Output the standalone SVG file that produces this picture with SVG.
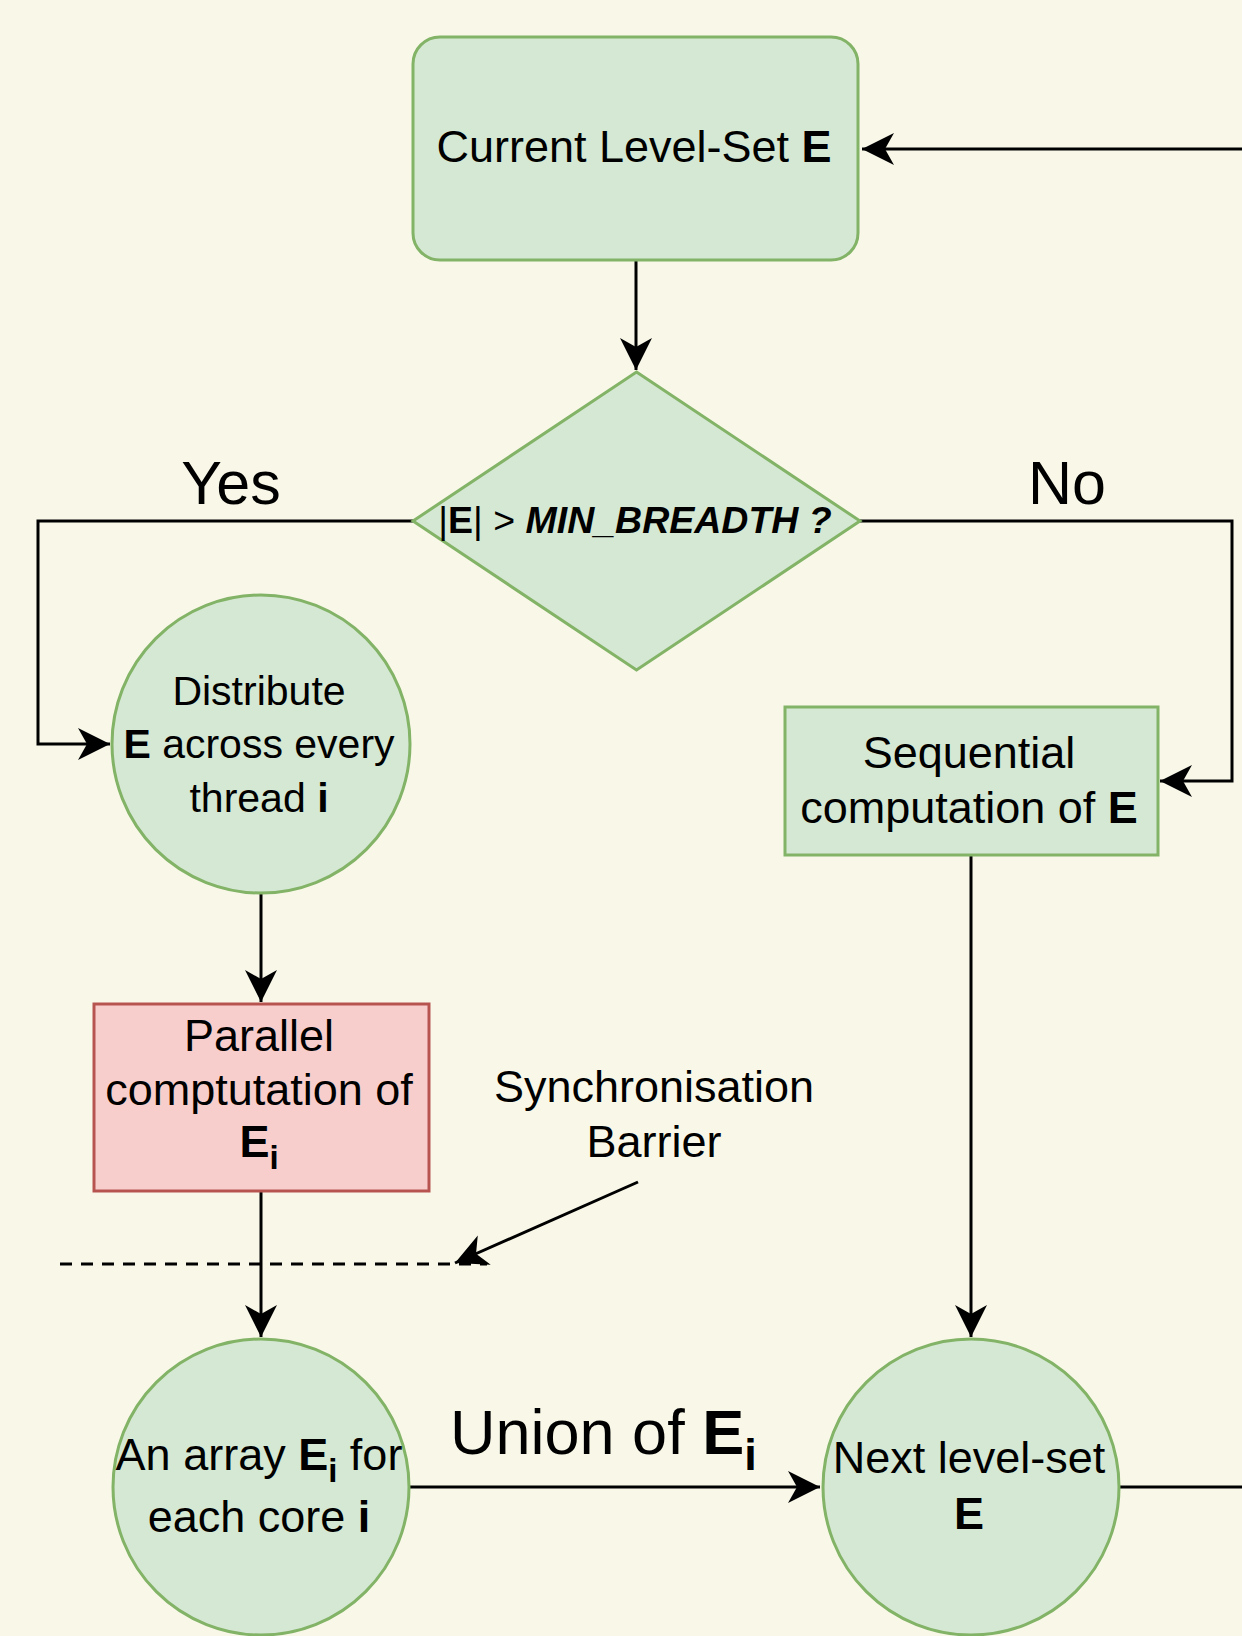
<svg xmlns="http://www.w3.org/2000/svg" width="1242" height="1636" viewBox="0 0 1242 1636">
<style>
text{font-family:"Liberation Sans",Arial,sans-serif;fill:#000}
.g{fill:#d5e8d4;stroke:#82b366;stroke-width:3}
.r{fill:#f8cecc;stroke:#b85450;stroke-width:3}
.c{fill:none;stroke:#000;stroke-width:3}
.b{font-weight:bold}
.t44{font-size:45px}
.t40{font-size:41px}
</style>
<defs>
<marker id="ah" markerUnits="userSpaceOnUse" viewBox="-34 -18 36 36" markerWidth="36" markerHeight="36" refX="0" refY="0" orient="auto">
<path d="M0,0 L-32,-16 L-23,0 L-32,16 Z" fill="#000"/>
</marker>
</defs>
<rect width="1242" height="1636" fill="#f9f8e8"/>
<g id="connectors">
<path class="c" d="M636,260 V370" marker-end="url(#ah)"/>
<path class="c" d="M413,521 H38 V744 H110" marker-end="url(#ah)"/>
<path class="c" d="M860,521 H1232 V781 H1160" marker-end="url(#ah)"/>
<path class="c" d="M261,893 V1002" marker-end="url(#ah)"/>
<path class="c" d="M261,1191 V1337" marker-end="url(#ah)"/>
<path class="c" d="M971,855 V1337" marker-end="url(#ah)"/>
<path class="c" d="M410,1487 H820" marker-end="url(#ah)"/>
<path class="c" d="M1119,1487 H1262 V149 H862" marker-end="url(#ah)"/>
<path class="c" d="M60,1264 H487" stroke-dasharray="12 9"/>
<path class="c" d="M638,1182 L455,1263" marker-end="url(#ah)"/>
</g>
<g id="current-level-set">
<rect class="g" x="413" y="37" width="445" height="223" rx="27"/>
<text class="t44" x="634" y="162" text-anchor="middle">Current Level-Set <tspan class="b">E</tspan></text>
</g>
<g id="decision">
<polygon class="g" points="636.5,372 860,521 636.5,670 413,521"/>
<text x="635" y="533" font-size="37.5" text-anchor="middle">|<tspan class="b">E</tspan>| &gt; <tspan class="b" font-style="italic">MIN_BREADTH ?</tspan></text>
</g>
<g id="label-yes"><text x="231" y="504" font-size="61" text-anchor="middle">Yes</text></g>
<g id="label-no"><text x="1067" y="504" font-size="61" text-anchor="middle">No</text></g>
<g id="distribute">
<circle class="g" cx="261" cy="744" r="149"/>
<text class="t40" text-anchor="middle"><tspan x="259" y="705">Distribute</tspan><tspan x="259" y="758"><tspan class="b">E</tspan> across every</tspan><tspan x="259" y="812">thread <tspan class="b">i</tspan></tspan></text>
</g>
<g id="sequential">
<rect class="g" x="785" y="707" width="373" height="148"/>
<text class="t44" text-anchor="middle"><tspan x="969" y="768">Sequential</tspan><tspan x="969" y="823">computation of <tspan class="b">E</tspan></tspan></text>
</g>
<g id="parallel">
<rect class="r" x="94" y="1004" width="335" height="187"/>
<text class="t44" text-anchor="middle"><tspan x="259" y="1051">Parallel</tspan><tspan x="259" y="1105">comptutation of</tspan><tspan x="259" y="1157" class="b">E<tspan font-size="33" dy="12">i</tspan></tspan></text>
</g>
<g id="sync-label">
<text class="t44" text-anchor="middle"><tspan x="654" y="1102">Synchronisation</tspan><tspan x="654" y="1157">Barrier</tspan></text>
</g>
<g id="array">
<circle class="g" cx="261" cy="1487" r="148"/>
<text class="t44" text-anchor="middle"><tspan x="259" y="1470">An array <tspan class="b">E</tspan><tspan class="b" font-size="33" dy="12">i</tspan><tspan dy="-12"> for</tspan></tspan><tspan x="259" y="1532">each core <tspan class="b">i</tspan></tspan></text>
</g>
<g id="union-label">
<text x="450" y="1454" font-size="63">Union of <tspan class="b">E</tspan><tspan class="b" font-size="45" dy="16">i</tspan></text>
</g>
<g id="next">
<circle class="g" cx="971" cy="1487" r="148"/>
<text class="t44" text-anchor="middle"><tspan x="969" y="1473">Next level-set</tspan><tspan x="969" y="1529" class="b">E</tspan></text>
</g>
</svg>
